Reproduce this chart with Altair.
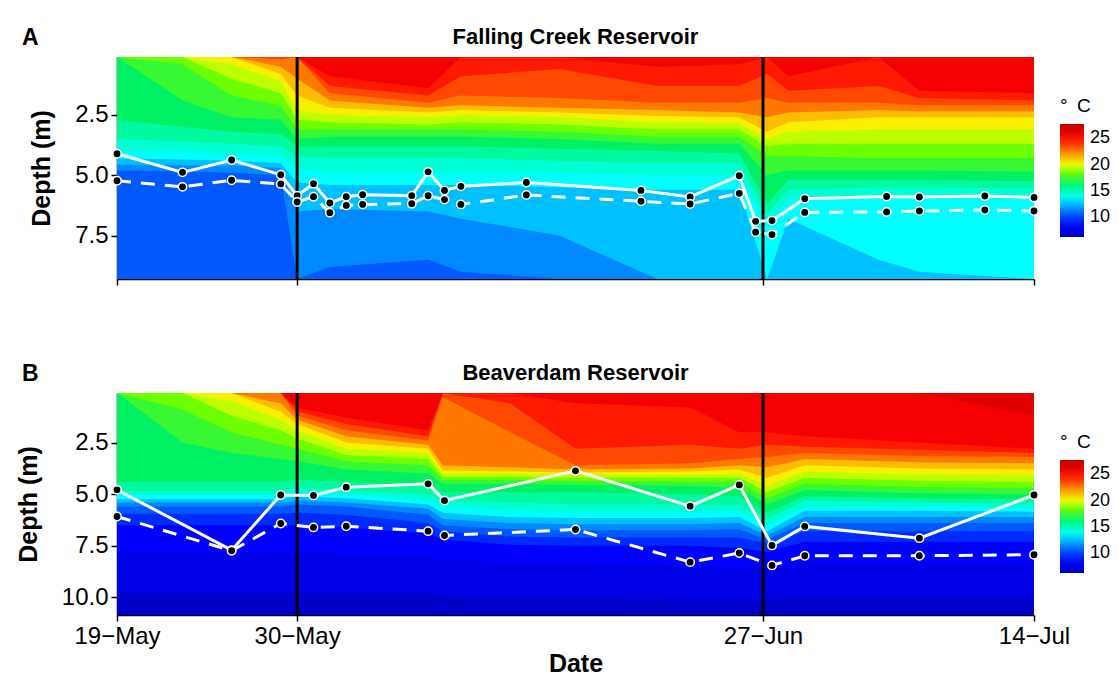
import json

import altair as alt
import pandas as pd

# ---------------------------------------------------------------------------
# Time axis: days after 19 May
# ---------------------------------------------------------------------------
TICK_DAYS = [0, 11, 39.45, 56]
TICK_LABELS = ["19\u2212May", "30\u2212May", "27\u2212Jun", "14\u2212Jul"]
EVENT_DAYS = [11, 39.45]
DAY_END = 56

FCR_TOP, FCR_BOTTOM = 0.1, 9.3
BVR_TOP, BVR_BOTTOM = 0.1, 10.85

# ---------------------------------------------------------------------------
# Temperature colour ramp (deg C -> colour)
# ---------------------------------------------------------------------------
RAMP_T = [6.3, 8.5, 10.0, 11.8, 13.5, 15.0, 16.5, 18.5, 20.2, 21.3, 22.5, 24.0, 25.0, 27.7]
RAMP_C = ["#0000c8", "#0000ff", "#0040ff", "#0096ff", "#00ffff", "#00ffbe", "#00f064",
          "#6eff00", "#f5ff00", "#ffc800", "#ff7800", "#ff3200", "#ff0000", "#c80000"]
LEGEND_VALUES = [10, 15, 20, 25]

# ---------------------------------------------------------------------------
# Falling Creek: isotherm depths (m) on profile days
# ---------------------------------------------------------------------------
FCR_PROFILE_DAYS = [0, 4, 7, 10, 11, 13, 19, 21, 27, 33, 38, 39.7, 41, 46.5, 49, 56]
FCR_BASE_TEMP = 10.5
FCR_ISO_11 = [4.8, 4.85, 4.9, 5.0, 9.3, 8.8, 8.5, 9.0, 9.3, 9.3, 9.3, 9.3, 9.3, 9.3, 9.3, 9.3]
FCR_ISO_12 = [4.55, 4.6, 4.6, 4.7, 6.5, 6.4, 6.5, 6.8, 7.5, 9.3, 9.3, 9.3, 9.3, 9.3, 9.3, 9.3]
FCR_ISO_13 = [4.3, 4.35, 4.4, 4.5, 5.3, 5.4, 5.4, 5.4, 5.5, 5.6, 5.6, 9.3, 6.8, 8.5, 9.0, 9.3]
FCR_ISO_14 = [4.0, 4.05, 4.1, 4.2, 4.7, 4.9, 4.9, 4.9, 4.9, 5.0, 5.0, 7.0, 6.0, 5.9, 5.9, 6.0]
FCR_ISO_15 = [3.5, 3.6, 3.7, 3.8, 4.2, 4.3, 4.3, 4.3, 4.4, 4.5, 4.5, 6.6, 5.6, 5.5, 5.5, 5.55]
FCR_ISO_16 = [2.7, 3.0, 3.2, 3.3, 3.8, 3.8, 3.8, 3.8, 3.9, 4.0, 4.1, 6.2, 5.2, 5.2, 5.2, 5.25]
FCR_ISO_17 = [0.1, 1.9, 2.6, 2.7, 3.5, 3.4, 3.4, 3.4, 3.5, 3.7, 3.7, 5.0, 4.8, 4.8, 4.8, 4.85]
FCR_ISO_18 = [0.1, 0.4, 1.7, 2.1, 3.1, 3.1, 3.1, 3.1, 3.2, 3.4, 3.4, 4.2, 4.2, 4.3, 4.3, 4.3]
FCR_ISO_19 = [0.1, 0.1, 1.0, 1.6, 2.7, 2.8, 2.9, 2.8, 2.9, 3.1, 3.1, 3.8, 3.7, 3.7, 3.7, 3.7]
FCR_ISO_20 = [0.1, 0.1, 0.4, 1.1, 2.3, 2.5, 2.6, 2.5, 2.6, 2.8, 2.85, 3.5, 3.2, 3.1, 3.1, 3.1]
FCR_ISO_21 = [0.1, 0.1, 0.1, 0.8, 1.7, 2.2, 2.4, 2.3, 2.4, 2.55, 2.6, 3.2, 2.8, 2.6, 2.6, 2.6]
FCR_ISO_22 = [0.1, 0.1, 0.1, 0.5, 1.0, 1.9, 2.2, 2.1, 2.2, 2.3, 2.4, 2.6, 2.4, 2.3, 2.35, 2.35]
FCR_ISO_23 = [0.1, 0.1, 0.1, 0.2, 0.1, 1.6, 2.0, 1.7, 1.8, 2.0, 2.0, 1.8, 2.0, 2.0, 2.1, 2.1]
FCR_ISO_24 = [0.1, 0.1, 0.1, 0.1, 0.1, 1.3, 1.7, 0.9, 0.6, 1.3, 1.3, 0.8, 1.5, 1.3, 1.8, 1.9]
FCR_ISO_25 = [0.1, 0.1, 0.1, 0.1, 0.1, 0.9, 1.4, 0.1, 0.1, 0.5, 0.4, 0.1, 0.9, 0.1, 1.5, 1.6]
FCR_ISOTHERMS = [(11, FCR_ISO_11), (12, FCR_ISO_12), (13, FCR_ISO_13), (14, FCR_ISO_14),
                 (15, FCR_ISO_15), (16, FCR_ISO_16), (17, FCR_ISO_17), (18, FCR_ISO_18),
                 (19, FCR_ISO_19), (20, FCR_ISO_20), (21, FCR_ISO_21), (22, FCR_ISO_22),
                 (23, FCR_ISO_23), (24, FCR_ISO_24), (25, FCR_ISO_25)]

# Falling Creek: thermocline / oxycline depths on sampling days
FCR_SAMPLE_DAYS = [0, 4, 7, 10, 11, 12, 13, 14, 15, 18, 19, 20, 21, 25, 32, 35, 38, 39, 40,
                   42, 47, 49, 53, 56]
FCR_THERMOCLINE = [4.11, 4.88, 4.37, 4.98, 5.85, 5.35, 6.15, 5.89, 5.81, 5.85, 4.86, 5.63,
                   5.46, 5.30, 5.63, 5.90, 5.02, 6.91, 6.88, 5.97, 5.88, 5.90, 5.86, 5.92]
FCR_OXYCLINE = [5.23, 5.48, 5.21, 5.36, 6.11, 5.89, 6.55, 6.25, 6.21, 6.18, 5.85, 6.01,
                6.21, 5.82, 6.08, 6.19, 5.75, 7.36, 7.46, 6.54, 6.52, 6.48, 6.44, 6.48]

# ---------------------------------------------------------------------------
# Beaverdam: isotherm depths (m) on profile days
# ---------------------------------------------------------------------------
BVR_PROFILE_DAYS = [0, 4, 7, 10, 11, 14, 19, 19.9, 24, 28, 35, 38, 39.7, 42, 49, 56]
BVR_BASE_TEMP = 6.5
BVR_ISO_7 = [9.8, 9.8, 9.8, 9.8, 9.8, 9.8, 9.8, 9.9, 10.0, 10.0, 10.1, 10.1, 10.1, 10.0, 10.0, 10.0]
BVR_ISO_8 = [7.8, 7.8, 7.8, 7.8, 7.8, 7.9, 8.0, 8.2, 8.3, 8.3, 8.5, 8.5, 8.6, 8.3, 8.3, 8.3]
BVR_ISO_9 = [6.5, 6.5, 6.5, 6.5, 6.5, 6.6, 6.9, 7.2, 7.45, 7.5, 7.5, 7.6, 7.8, 7.3, 7.3, 7.3]
BVR_ISO_10 = [5.95, 5.95, 5.95, 5.95, 5.9, 6.0, 6.4, 6.8, 7.05, 7.1, 7.1, 7.1, 7.4, 6.8, 6.8, 6.8]
BVR_ISO_11 = [5.6, 5.6, 5.6, 5.6, 5.5, 5.6, 6.0, 6.5, 6.7, 6.75, 6.75, 6.7, 7.2, 6.4, 6.4, 6.4]
BVR_ISO_12 = [5.4, 5.4, 5.4, 5.4, 5.3, 5.4, 5.7, 6.2, 6.4, 6.45, 6.45, 6.4, 7.0, 6.1, 6.1, 6.1]
BVR_ISO_13 = [5.25, 5.25, 5.25, 5.25, 5.1, 5.2, 5.5, 5.9, 6.1, 6.15, 6.15, 6.1, 6.8, 5.8, 5.8, 5.85]
BVR_ISO_14 = [5.05, 5.05, 5.05, 5.05, 4.95, 5.0, 5.3, 5.6, 5.8, 5.85, 5.85, 5.8, 6.5, 5.6, 5.6, 5.65]
BVR_ISO_15 = [4.85, 4.85, 4.85, 4.85, 4.7, 4.8, 5.0, 5.3, 5.4, 5.5, 5.5, 5.5, 6.2, 5.3, 5.4, 5.45]
BVR_ISO_16 = [4.4, 4.4, 4.4, 4.4, 4.3, 4.4, 4.6, 4.9, 4.9, 4.9, 5.0, 5.1, 5.9, 5.1, 5.2, 5.25]
BVR_ISO_17 = [0.1, 2.5, 3.0, 3.3, 3.4, 3.8, 4.0, 4.5, 4.5, 4.55, 4.6, 4.7, 5.5, 4.8, 4.95, 5.0]
BVR_ISO_18 = [0.1, 0.9, 2.0, 2.6, 2.8, 3.4, 3.6, 4.3, 4.3, 4.35, 4.4, 4.4, 5.2, 4.5, 4.65, 4.7]
BVR_ISO_19 = [0.1, 0.1, 1.2, 1.9, 2.3, 3.1, 3.3, 4.15, 4.15, 4.2, 4.2, 4.2, 4.9, 4.2, 4.35, 4.4]
BVR_ISO_20 = [0.1, 0.1, 0.5, 1.4, 1.9, 2.8, 3.0, 4.0, 4.0, 4.05, 4.05, 4.0, 4.6, 3.9, 4.05, 4.1]
BVR_ISO_21 = [0.1, 0.1, 0.1, 1.0, 1.6, 2.5, 2.8, 3.85, 3.9, 3.95, 3.9, 3.8, 4.2, 3.6, 3.75, 3.8]
BVR_ISO_22 = [0.1, 0.1, 0.1, 0.6, 1.4, 2.2, 2.6, 3.6, 3.7, 3.8, 3.75, 3.6, 3.7, 3.3, 3.45, 3.5]
BVR_ISO_23 = [0.1, 0.1, 0.1, 0.1, 1.2, 1.9, 2.4, 0.3, 2.0, 3.6, 3.5, 3.3, 3.2, 3.0, 3.15, 3.2]
BVR_ISO_24 = [0.1, 0.1, 0.1, 0.1, 1.0, 1.6, 2.2, 0.1, 0.6, 2.8, 2.6, 2.8, 2.6, 2.7, 2.85, 3.0]
BVR_ISO_25 = [0.1, 0.1, 0.1, 0.1, 0.8, 1.3, 1.9, 0.1, 0.1, 0.6, 0.8, 2.0, 2.0, 2.2, 2.5, 2.8]
BVR_ISO_26 = [0.1, 0.1, 0.1, 0.1, 0.1, 0.1, 0.1, 0.1, 0.1, 0.1, 0.1, 0.1, 0.1, 0.1, 0.1, 1.2]
BVR_ISOTHERMS = [(7, BVR_ISO_7), (8, BVR_ISO_8), (9, BVR_ISO_9), (10, BVR_ISO_10),
                 (11, BVR_ISO_11), (12, BVR_ISO_12), (13, BVR_ISO_13), (14, BVR_ISO_14),
                 (15, BVR_ISO_15), (16, BVR_ISO_16), (17, BVR_ISO_17), (18, BVR_ISO_18),
                 (19, BVR_ISO_19), (20, BVR_ISO_20), (21, BVR_ISO_21), (22, BVR_ISO_22),
                 (23, BVR_ISO_23), (24, BVR_ISO_24), (25, BVR_ISO_25), (26, BVR_ISO_26)]

# Beaverdam: thermocline / oxycline depths on sampling days
BVR_SAMPLE_DAYS = [0, 7, 10, 12, 14, 19, 20, 28, 35, 38, 40, 42, 49, 56]
BVR_THERMOCLINE = [4.79, 7.71, 5.04, 5.06, 4.66, 4.50, 5.31, 3.87, 5.58, 4.55, 7.48, 6.56, 7.13, 5.04]
BVR_OXYCLINE = [6.08, 7.74, 6.42, 6.61, 6.55, 6.79, 7.00, 6.71, 8.29, 7.85, 8.45, 7.98, 7.98, 7.93]

PLOT_W, PLOT_H = 917, 222
LABEL_EXPR = "{}[indexof({}, datum.value)]".format(json.dumps(TICK_LABELS, ensure_ascii=False),
                                                   json.dumps(TICK_DAYS))


def panel(title, tag, profile_days, isotherms, base_temp, top, bottom,
          sample_days, thermo, oxy, depth_ticks, bottom_axis):
    x_scale = alt.Scale(domain=[0, DAY_END], nice=False, zero=False)
    y_scale = alt.Scale(domain=[top, bottom], reverse=True, nice=False, zero=False)
    x_axis = alt.Axis(values=TICK_DAYS, labelExpr=LABEL_EXPR, labels=bottom_axis,
                      labelFlush=False, labelOverlap=False,
                      title="Date" if bottom_axis else "", titlePadding=3)
    y_axis = alt.Axis(values=depth_ticks, format=".1f", title="Depth (m)", titlePadding=20)

    def xe(field):
        return alt.X(field, type="quantitative", scale=x_scale, axis=x_axis)

    def ye(field):
        return alt.Y(field, type="quantitative", scale=y_scale, axis=y_axis)

    color = alt.Color(
        "temp:Q",
        scale=alt.Scale(domain=RAMP_T, range=RAMP_C, interpolate="rgb"),
        legend=alt.Legend(title="\u00b0\u2002C", values=LEGEND_VALUES, orient="none",
                          legendX=PLOT_W + 26, legendY=40, direction="vertical",
                          gradientLength=113, gradientThickness=24, gradientStrokeWidth=0,
                          labelFontSize=18, titleFontSize=19, titleFontWeight="normal",
                          labelColor="black", titleColor="black", labelOffset=6,
                          titlePadding=8),
    )

    base = alt.Chart(pd.DataFrame({"x": [0], "x2": [DAY_END], "y": [top], "y2": [bottom],
                                   "temp": [base_temp]})).mark_rect().encode(
        x=xe("x"), x2="x2:Q", y=ye("y"), y2="y2:Q", color=color,
    )

    bands = []
    for level, depths in isotherms:
        df = pd.DataFrame({"day": profile_days, "depth": depths, "top": top,
                           "temp": level + 0.5})
        bands.append(
            alt.Chart(df).mark_area(interpolate="linear").encode(
                x=xe("day"), y=ye("depth"), y2="top:Q", color=color,
            )
        )

    rules = alt.Chart(pd.DataFrame({"day": EVENT_DAYS})).mark_rule(
        color="black", strokeWidth=3).encode(x=xe("day"))

    lines_df = pd.DataFrame({"day": sample_days, "thermo": thermo, "oxy": oxy})
    thermo_line = alt.Chart(lines_df).mark_line(color="white", strokeWidth=3).encode(
        x=xe("day"), y=ye("thermo"))
    oxy_line = alt.Chart(lines_df).mark_line(color="white", strokeWidth=3,
                                             strokeDash=[14, 10]).encode(
        x=xe("day"), y=ye("oxy"))
    dot = dict(color="black", stroke="white", strokeWidth=1.5, size=70, opacity=1)
    thermo_pts = alt.Chart(lines_df).mark_circle(**dot).encode(x=xe("day"), y=ye("thermo"))
    oxy_pts = alt.Chart(lines_df).mark_circle(**dot).encode(x=xe("day"), y=ye("oxy"))

    head = pd.DataFrame({"tag": [tag], "name": [title]})
    tag_mark = alt.Chart(head).mark_text(
        align="left", baseline="alphabetic", fontSize=23, fontWeight="bold", color="black"
    ).encode(text="tag:N", x=alt.value(-95), y=alt.value(-12))
    title_mark = alt.Chart(head).mark_text(
        align="center", baseline="alphabetic", fontSize=22, fontWeight="bold", color="black"
    ).encode(text="name:N", x=alt.value(PLOT_W / 2), y=alt.value(-13))

    return alt.layer(base, *bands, rules, thermo_line, oxy_line, thermo_pts, oxy_pts,
                     tag_mark, title_mark).properties(width=PLOT_W, height=PLOT_H)


fcr = panel("Falling Creek Reservoir", "A", FCR_PROFILE_DAYS, FCR_ISOTHERMS, FCR_BASE_TEMP,
            FCR_TOP, FCR_BOTTOM, FCR_SAMPLE_DAYS, FCR_THERMOCLINE, FCR_OXYCLINE,
            [2.5, 5.0, 7.5], False)
bvr = panel("Beaverdam Reservoir", "B", BVR_PROFILE_DAYS, BVR_ISOTHERMS, BVR_BASE_TEMP,
            BVR_TOP, BVR_BOTTOM, BVR_SAMPLE_DAYS, BVR_THERMOCLINE, BVR_OXYCLINE,
            [2.5, 5.0, 7.5, 10.0], True)

chart = (
    alt.vconcat(fcr, bvr, spacing=76)
    .resolve_scale(color="independent")
    .resolve_legend(color="independent")
    .properties(padding={"left": 16, "top": 26, "right": 0, "bottom": 0})
    .configure(font="Liberation Sans")
    .configure_view(stroke=None)
    .configure_axis(domainColor="black", domainWidth=1.5, tickColor="black", tickWidth=1.5,
                    tickSize=6, labelFontSize=24, labelColor="black", titleFontSize=25,
                    titleFontWeight="bold", titleColor="black", grid=False, labelPadding=3)
)

chart.save("out.html", embed_options={"renderer": "svg", "actions": False})
